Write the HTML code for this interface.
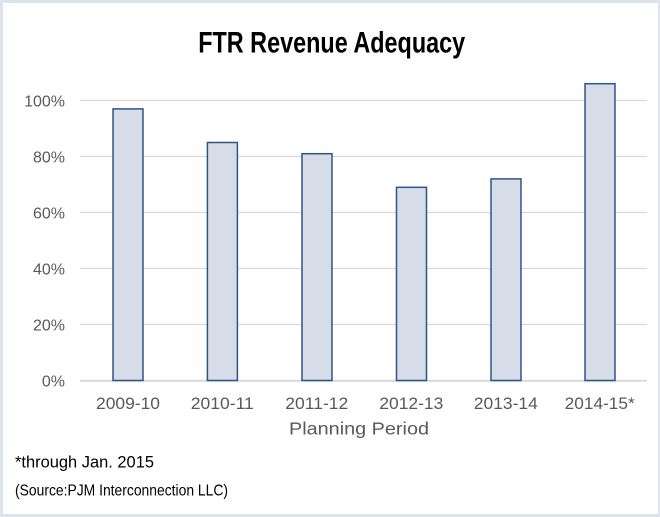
<!DOCTYPE html>
<html><head><meta charset="utf-8"><style>
html,body{margin:0;padding:0;background:#fff;}
svg{display:block;}
</style></head><body>
<svg width="660" height="517" viewBox="0 0 660 517" xmlns="http://www.w3.org/2000/svg">
<rect x="0" y="0" width="660" height="517" fill="#dde4ee"/>
<rect x="3" y="3" width="655" height="511" fill="#ffffff"/>
<text x="331.7" y="52.7" text-anchor="middle" font-family="Liberation Sans Narrow, Liberation Sans, sans-serif" font-weight="bold" font-size="30" fill="#000" textLength="267" lengthAdjust="spacingAndGlyphs">FTR Revenue Adequacy</text>
<g stroke="#d9d9d9" stroke-width="1.3">
<line x1="80" y1="100.5" x2="647" y2="100.5"/>
<line x1="80" y1="156.5" x2="647" y2="156.5"/>
<line x1="80" y1="212.5" x2="647" y2="212.5"/>
<line x1="80" y1="268.5" x2="647" y2="268.5"/>
<line x1="80" y1="324.5" x2="647" y2="324.5"/>
</g>
<line x1="80" y1="380.8" x2="647" y2="380.8" stroke="#d9d9d9" stroke-width="2"/>
<g font-family="Liberation Sans, sans-serif" font-size="16" fill="#595959" text-anchor="end">
<text x="65" y="106.7">100%</text>
<text x="65" y="162.7">80%</text>
<text x="65" y="218.7">60%</text>
<text x="65" y="274.7">40%</text>
<text x="65" y="330.7">20%</text>
<text x="65" y="386.7">0%</text>
</g>
<g fill="#d6dce8" stroke="#2f5487" stroke-width="1.5">
<rect x="113" y="108.9" width="30" height="271.6"/>
<rect x="207.4" y="142.5" width="30" height="238"/>
<rect x="302" y="153.7" width="30" height="226.8"/>
<rect x="396.5" y="187.3" width="30" height="193.2"/>
<rect x="491" y="178.9" width="30" height="201.6"/>
<rect x="585" y="83.7" width="30" height="296.8"/>
</g>
<g font-family="Liberation Sans, sans-serif" font-size="16.5" fill="#595959" text-anchor="middle">
<text x="128" y="409" textLength="64" lengthAdjust="spacingAndGlyphs">2009-10</text>
<text x="222.3" y="409" textLength="63" lengthAdjust="spacingAndGlyphs">2010-11</text>
<text x="316.8" y="409" textLength="63" lengthAdjust="spacingAndGlyphs">2011-12</text>
<text x="411.3" y="409" textLength="64" lengthAdjust="spacingAndGlyphs">2012-13</text>
<text x="505.8" y="409" textLength="64" lengthAdjust="spacingAndGlyphs">2013-14</text>
<text x="599.7" y="409" textLength="70" lengthAdjust="spacingAndGlyphs">2014-15*</text>
</g>
<text x="359" y="434.5" text-anchor="middle" font-family="Liberation Sans, sans-serif" font-size="17.5" fill="#595959" textLength="140" lengthAdjust="spacingAndGlyphs">Planning Period</text>
<text x="15" y="467.7" font-family="Liberation Sans, sans-serif" font-size="17" fill="#000" textLength="139" lengthAdjust="spacingAndGlyphs">*through Jan. 2015</text>
<text x="15" y="495.5" font-family="Liberation Sans Narrow, Liberation Sans, sans-serif" font-size="16" fill="#000" textLength="213" lengthAdjust="spacingAndGlyphs">(Source:PJM Interconnection LLC)</text>
</svg>
</body></html>
